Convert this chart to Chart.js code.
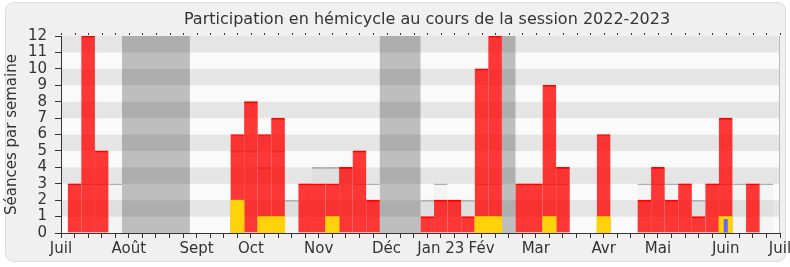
<!DOCTYPE html>
<html lang="fr">
<head>
<meta charset="UTF-8">
<title>Participation en hémicycle 2022-2023</title>
<script src="https://cdn.jsdelivr.net/npm/chart.js"></script>
<style>
  html, body { margin: 0; padding: 0; background: #fff; }
  canvas { display: block; }
</style>
</head>
<body>
<canvas id="chart" width="790" height="267"></canvas>
<script>
// weeks of the session, 1 = first week of July 2022
const weeks = [1, 2, 3, 4, 5, 6, 7, 8, 9, 10, 11, 12, 13, 14, 15, 16, 17, 18, 19, 20, 21, 22, 23, 24, 25, 26,
  27, 28, 29, 30, 31, 32, 33, 34, 35, 36, 37, 38, 39, 40, 41, 42, 43, 44, 45, 46, 47, 48, 49, 50, 51, 52];

// séances en hémicycle par semaine (rouge)
const seances = [3, 12, 5, null, null, null, null, null, null, null, null, null, 6, 8, 6, 7, null, 3, 3, 3, 4, 5, 2, null, null, null,
  1, 2, 2, 1, 10, 12, null, 3, 3, 9, 4, null, null, 6, null, null, 2, 4, 2, 3, 1, 3, 7, null, 3, null];

// questions (jaune)
const questions = [null, null, null, null, null, null, null, null, null, null, null, null, 2, null, 1, 1, null, null, null, 1, null, null, null, null, null, null,
  null, null, null, null, 1, 1, null, null, null, 1, null, null, null, 1, null, null, null, null, null, null, null, null, 1, null, null, null];

// autre activité (bleu)
const autres = [null, null, null, null, null, null, null, null, null, null, null, null, null, null, null, null, null, null, null, null, null, null, null, null, null, null,
  null, null, null, null, null, null, null, null, null, null, null, null, null, null, null, null, null, null, null, null, null, null, 0.85, null, null, null];

// médiane des députés (gris)
const mediane = [3, 3, 3, 3, null, null, null, null, null, null, null, null, 5, 5, 4, 5, 2, 3, 4, 4, 4, 3, 3, null, null, null,
  2, 3, 2, 2, 3, 3, null, 3, 3, 3, 3, null, null, null, null, null, 3, 3, 3, 3, 2, 3, 3, 3, 3, 3];

// vacances parlementaires (first week, last week)
const vacances = [[5, 9], [24, 26], [33, 33]];

const monthTicks = { 0: 'Juil', 5: 'Août', 10: 'Sept', 14: 'Oct', 19: 'Nov', 24: 'Déc', 28: 'Jan 23',
  31: 'Fév', 35: 'Mar', 40: 'Avr', 44: 'Mai', 49: 'Juin', 53: 'Juil' };

const titre = 'Participation en hémicycle au cours de la session 2022-2023';
const FONT = '"DejaVu Sans", Verdana, sans-serif';

const toPoints = arr => weeks.map((w, i) => ({ x: w, y: arr[i] }));

const decor = {
  id: 'decor',
  beforeDraw(chart) {
    const ctx = chart.ctx;
    const { left, right, top, bottom } = chart.chartArea;
    const xs = chart.scales.x, ys = chart.scales.y;
    ctx.save();
    ctx.fillStyle = '#fff';
    ctx.fillRect(0, 0, chart.width, chart.height);
    ctx.beginPath();
    ctx.roundRect(5.5, 2.5, 780, 259, 8);
    ctx.fillStyle = '#f0f0f0';
    ctx.fill();
    ctx.strokeStyle = '#dddddd';
    ctx.lineWidth = 1;
    ctx.stroke();
    // horizontal stripes
    for (let v = ys.min; v < ys.max; v++) {
      const y0 = ys.getPixelForValue(v + 1), y1 = ys.getPixelForValue(v);
      ctx.fillStyle = v % 2 ? '#e5e5e5' : '#fafafa';
      ctx.fillRect(left, y0, right - left, y1 - y0);
    }
    // vacation bands
    ctx.fillStyle = 'rgba(0,0,0,0.24)';
    vacances.forEach(([a, b]) => {
      const x0 = xs.getPixelForValue(a - 0.5), x1 = xs.getPixelForValue(b + 0.5);
      ctx.fillRect(x0, top, x1 - x0, bottom - top);
    });
    ctx.restore();
  },
  afterDraw(chart) {
    const ctx = chart.ctx;
    const { left, right, top, bottom } = chart.chartArea;
    const xs = chart.scales.x;
    ctx.save();
    // right edge
    ctx.strokeStyle = '#bbbbbb';
    ctx.beginPath();
    ctx.moveTo(right - 0.5, top);
    ctx.lineTo(right - 0.5, bottom);
    ctx.stroke();
    // small marks along the top
    ctx.fillStyle = '#333';
    for (let k = xs.min; k <= xs.max; k++) {
      const px = Math.round(xs.getPixelForValue(k));
      ctx.fillRect(px, top - 3, 1, 2);
    }
    // title
    ctx.font = '16px ' + FONT;
    ctx.fillStyle = '#333';
    ctx.textAlign = 'center';
    ctx.textBaseline = 'middle';
    ctx.fillText(titre, 427, 20);
    ctx.restore();
  }
};

const topOnly = { top: 1, right: 0, bottom: 0, left: 0 };

new Chart(document.getElementById('chart'), {
  type: 'bar',
  data: {
    datasets: [
      { label: 'Autres', data: toPoints(autres), backgroundColor: '#6666ff',
        grouped: false, barPercentage: 0.3, categoryPercentage: 1, order: 0 },
      { label: 'Questions', data: toPoints(questions), backgroundColor: '#ffd20a',
        grouped: false, barPercentage: 1, categoryPercentage: 1, order: 1 },
      { label: 'Séances', data: toPoints(seances), backgroundColor: 'rgba(255,0,0,0.78)',
        borderColor: '#ff0000', borderWidth: topOnly, borderSkipped: false,
        grouped: false, barPercentage: 1, categoryPercentage: 1, order: 2 },
      { label: 'Médiane', data: toPoints(mediane), backgroundColor: 'rgba(0,0,0,0.025)',
        borderColor: '#b0b0b0', borderWidth: topOnly, borderSkipped: false,
        grouped: false, barPercentage: 1, categoryPercentage: 1, order: 3 }
    ]
  },
  options: {
    responsive: false,
    animation: false,
    devicePixelRatio: 1,
    layout: { padding: { left: 3, right: 10, top: 36, bottom: 0 } },
    plugins: { legend: { display: false }, tooltip: { enabled: false }, title: { display: false } },
    scales: {
      x: {
        type: 'linear',
        offset: false,
        min: 0,
        max: 53,
        afterFit(scale) { scale.height = 34; scale.paddingLeft = 0; scale.paddingRight = 0; },
        grid: { offset: false, drawOnChartArea: false, drawTicks: true, tickLength: 5, color: '#333' },
        border: { color: '#333' },
        ticks: {
          stepSize: 1,
          autoSkip: false,
          maxRotation: 0,
          minRotation: 0,
          padding: 2,
          color: '#333',
          font: { family: FONT, size: 15 },
          callback: v => monthTicks[v] || ''
        }
      },
      y: {
        min: 0,
        max: 12,
        afterFit(scale) { scale.width = 58; },
        grid: { drawOnChartArea: false, drawTicks: true, tickLength: 6, color: '#333' },
        border: { color: '#333' },
        ticks: { stepSize: 1, autoSkip: false, padding: 8, color: '#333', font: { family: FONT, size: 15 } },
        title: { display: true, text: 'Séances par semaine', color: '#333',
          font: { family: FONT, size: 15 }, padding: { top: 0, bottom: 0 } }
      }
    }
  },
  plugins: [decor]
});
</script>
</body>
</html>
